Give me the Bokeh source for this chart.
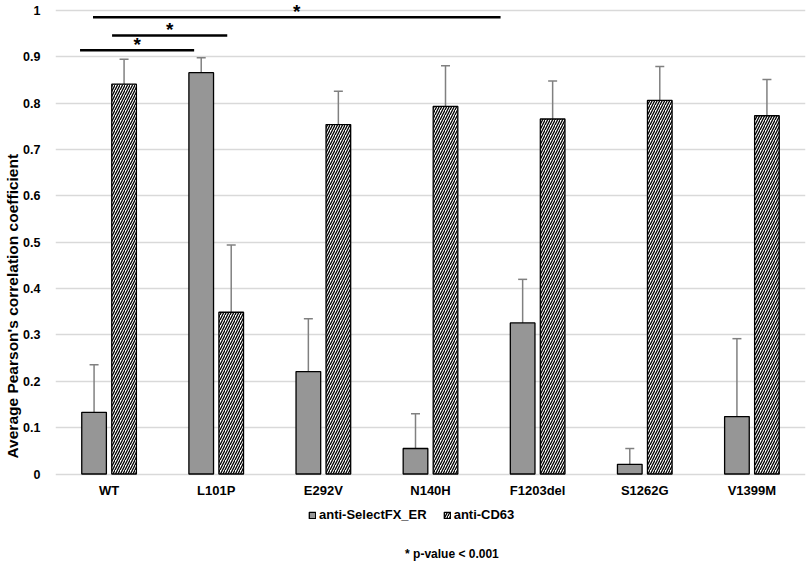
from bokeh.plotting import figure
from bokeh.models import (ColumnDataSource, Range1d, FixedTicker, NumeralTickFormatter,
                          Whisker, TeeHead, Legend, LegendItem, Label, Title)
from bokeh.transform import dodge
from bokeh.core.properties import value
from bokeh.embed import file_html
from bokeh.resources import INLINE

# ---- data ----
categories = ["WT", "L101P", "E292V", "N140H", "F1203del", "S1262G", "V1399M"]
selectfx_mean = [0.133, 0.866, 0.221, 0.055, 0.326, 0.021, 0.124]
selectfx_sd = [0.103, 0.032, 0.114, 0.075, 0.094, 0.034, 0.168]
cd63_mean = [0.841, 0.349, 0.754, 0.793, 0.766, 0.806, 0.773]
cd63_sd = [0.054, 0.145, 0.072, 0.088, 0.082, 0.073, 0.078]
y_ticks = [0, 0.1, 0.2, 0.3, 0.4, 0.5, 0.6, 0.7, 0.8, 0.9, 1.0]

# significance brackets (x start, x end in category units, height)
sig_x0 = [0.35, 0.528, 0.229]
sig_x1 = [4.154, 1.603, 1.294]
sig_y = [0.9856, 0.946, 0.9145]
sig_text = ["*", "*", "*"]

FONT = "Liberation Sans"

xs = [i + 0.5 for i in range(len(categories))]
src = ColumnDataSource(dict(
    x=xs,
    sfx=selectfx_mean,
    sfx_up=[m + s for m, s in zip(selectfx_mean, selectfx_sd)],
    cd=cd63_mean,
    cd_up=[m + s for m, s in zip(cd63_mean, cd63_sd)],
))

p = figure(width=807, height=567, output_backend="svg", toolbar_location=None,
           x_range=Range1d(0, 7), y_range=Range1d(-0.2017, 1.0173),
           min_border_left=55, min_border_right=2, min_border_top=2,
           min_border_bottom=0)
p.outline_line_color = None
p.background_fill_color = "white"

BW = 0.23
r1 = p.vbar(x=dodge("x", -0.14, range=p.x_range), top="sfx", width=BW, source=src,
            fill_color="#969696", line_color="black", line_width=1.3)
r2 = p.vbar(x=dodge("x", 0.14, range=p.x_range), top="cd", width=BW, source=src,
            fill_color="white", line_color="black", line_width=1.3,
            hatch_pattern="right_diagonal_line", hatch_color="black",
            hatch_scale=5, hatch_weight=1.3)

ecol = "#808080"
w1 = Whisker(base=dodge("x", -0.14, range=p.x_range), lower="sfx", upper="sfx_up", source=src,
             dimension="height", line_color=ecol, line_width=1.5, lower_head=None,
             upper_head=TeeHead(size=9, line_color=ecol, line_width=1.5))
w2 = Whisker(base=dodge("x", 0.14, range=p.x_range), lower="cd", upper="cd_up", source=src,
             dimension="height", line_color=ecol, line_width=1.5, lower_head=None,
             upper_head=TeeHead(size=9, line_color=ecol, line_width=1.5))
p.add_layout(w1)
p.add_layout(w2)

# significance lines and stars
sig_src = ColumnDataSource(dict(x0=sig_x0, x1=sig_x1, y=sig_y, t=sig_text,
                                xm=[(a + b) / 2 for a, b in zip(sig_x0, sig_x1)]))
p.segment(x0="x0", y0="y", x1="x1", y1="y", source=sig_src, line_color="black", line_width=2.5)
p.text(x="xm", y="y", text="t", source=sig_src, text_align="center",
       text_baseline="middle", text_font=value(FONT), text_font_style="bold",
       text_font_size="19px", text_color="black", y_offset=-6)

# axes
p.yaxis.ticker = FixedTicker(ticks=y_ticks)
p.yaxis.formatter = NumeralTickFormatter(format="0.[0]")
p.yaxis.axis_line_color = None
p.yaxis.major_tick_line_color = None
p.yaxis.minor_tick_line_color = None
p.yaxis.major_label_standoff = 9
p.yaxis.major_label_text_font = FONT
p.yaxis.major_label_text_font_style = "bold"
p.yaxis.major_label_text_font_size = "12.5px"
p.yaxis.major_label_text_color = "black"

xax = p.xaxis[0]
xax.fixed_location = 0
xax.ticker = FixedTicker(ticks=xs)
xax.major_label_overrides = {x: c for x, c in zip(xs, categories)}
xax.axis_line_color = None
xax.major_tick_line_color = None
xax.minor_tick_line_color = None
xax.major_label_standoff = 3
xax.major_label_text_font = FONT
xax.major_label_text_font_style = "bold"
xax.major_label_text_font_size = "13px"
xax.major_label_text_color = "black"

p.xgrid.grid_line_color = None
p.ygrid.grid_line_color = "#d9d9d9"
p.ygrid.grid_line_width = 1.5

# y axis title, shifted downwards like the original
ytitle = Title(text="Average Pearson's correlation coefficient", align="left",
               offset=109, standoff=0, text_font=FONT, text_font_style="bold",
               text_font_size="15.5px", text_color="black")
p.add_layout(ytitle, "left")

legend = Legend(items=[LegendItem(label="anti-SelectFX_ER", renderers=[r1]),
                       LegendItem(label="anti-CD63", renderers=[r2])],
                orientation="horizontal", location=(253, 45),
                glyph_width=8, glyph_height=8, label_standoff=3, spacing=16,
                padding=3, margin=0, border_line_color=None, background_fill_alpha=0,
                label_text_font=FONT, label_text_font_style="bold",
                label_text_font_size="13px", label_text_color="black")
p.add_layout(legend)

foot = Label(x=3.7, y=-0.1715, text="* p-value < 0.001", text_align="center",
             text_baseline="middle", text_font=FONT, text_font_style="bold",
             text_font_size="12px", text_color="black")
p.add_layout(foot)

open("out.html", "w").write(file_html(p, INLINE))
